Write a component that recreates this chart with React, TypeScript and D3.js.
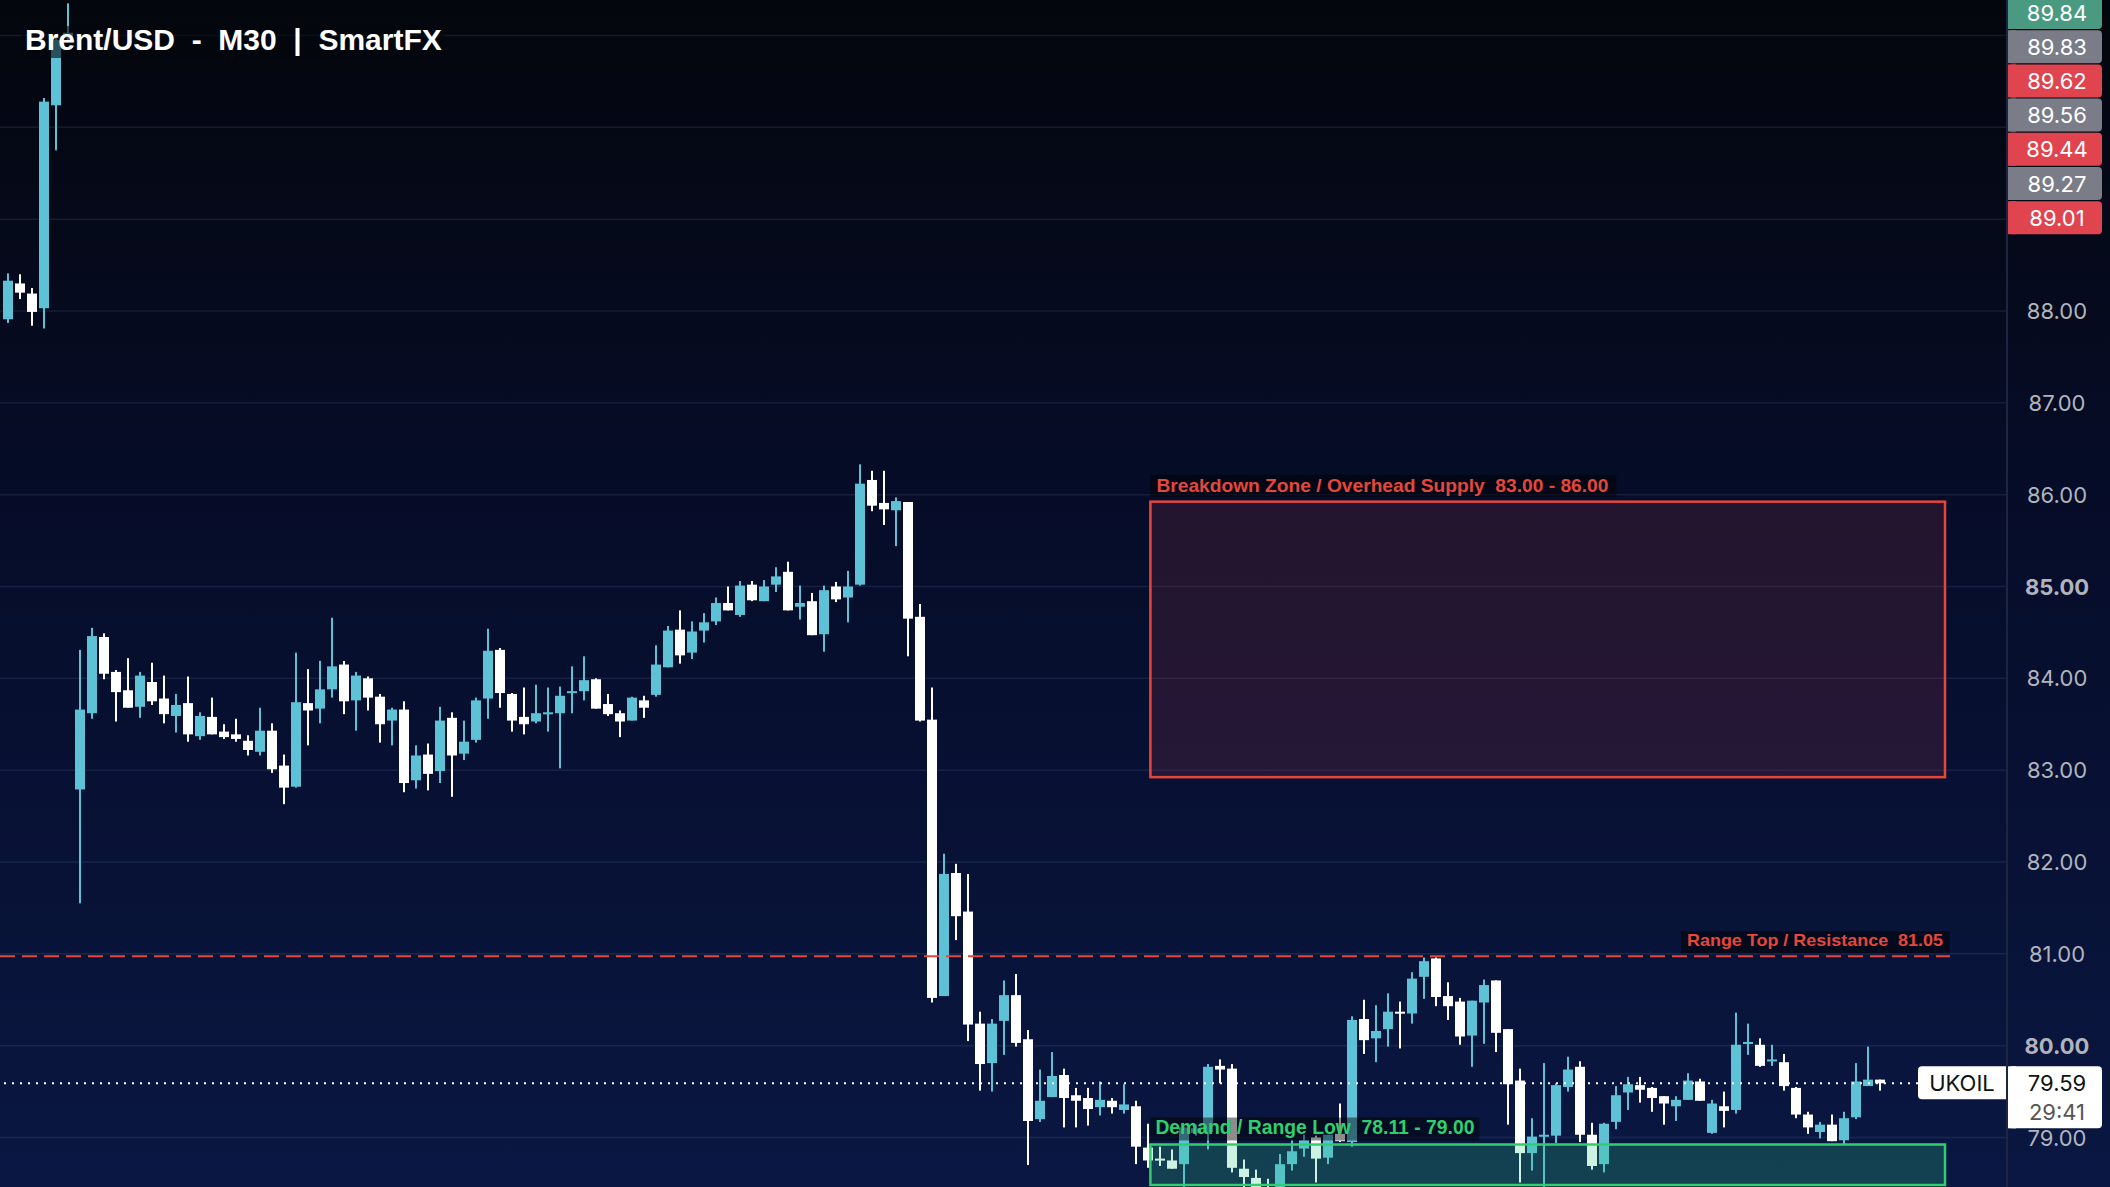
import React from 'react';
import * as d3 from 'd3';

const W = 2110;
const H = 1187;

const OPEN = [87.91,88.30,88.19,88.03,90.24,90.97,82.79,83.62,84.45,84.07,83.87,83.69,83.96,83.78,83.59,83.73,83.37,83.58,83.42,83.39,83.32,83.20,83.43,83.05,82.82,83.73,83.67,83.88,84.15,83.76,84.00,83.80,83.54,83.66,82.89,83.17,82.99,83.57,83.18,83.33,83.78,84.31,83.83,83.58,83.53,83.61,83.62,83.84,83.86,83.99,83.72,83.62,83.54,83.76,83.82,84.12,84.53,84.28,84.52,84.62,84.82,84.69,85.02,84.84,85.02,85.16,84.78,84.84,84.48,85.00,84.88,85.02,86.16,85.91,85.83,85.92,84.67,83.55,80.54,81.88,81.46,80.24,79.81,80.27,80.55,80.07,79.20,79.44,79.68,79.46,79.43,79.33,79.40,79.30,79.34,78.89,78.77,78.75,78.71,79.05,79.06,79.78,79.75,78.66,78.56,78.40,78.28,78.71,78.88,79.00,78.78,79.04,78.95,80.29,80.08,80.18,80.37,80.35,80.75,80.95,80.54,80.48,80.11,80.47,80.71,80.18,79.62,78.83,79.01,79.02,79.55,79.77,79.03,78.71,79.17,79.49,79.57,79.54,79.45,79.34,79.41,79.61,79.05,79.34,79.30,80.02,80.01,79.83,79.82,79.54,79.25,79.06,79.14,78.97,79.22,79.56,79.63];
const HIGH = [88.41,88.40,88.25,90.32,90.99,91.35,84.31,84.55,84.49,84.09,84.22,84.07,84.17,84.03,83.83,84.02,83.63,83.79,83.50,83.56,83.38,83.68,83.51,83.17,84.28,84.10,84.19,84.66,84.19,84.07,84.02,83.83,83.68,83.75,83.27,83.29,83.69,83.63,83.54,83.79,84.54,84.33,83.84,83.90,83.93,83.90,83.91,84.13,84.24,84.00,83.83,83.65,83.80,83.81,84.36,84.57,84.74,84.62,84.71,84.88,85.00,85.06,85.06,85.07,85.21,85.27,85.01,84.93,85.01,85.05,85.17,86.33,86.26,86.26,85.97,85.92,84.81,83.90,82.09,81.98,81.87,80.37,80.29,80.71,80.78,80.17,79.74,79.93,79.75,79.54,79.54,79.61,79.43,79.58,79.40,79.15,78.90,78.87,79.11,79.14,79.80,79.85,79.80,78.76,78.65,78.55,78.82,78.97,79.03,79.02,79.03,79.37,80.32,80.50,80.44,80.57,80.48,80.80,80.96,80.96,80.69,80.52,80.49,80.72,80.71,80.18,79.75,79.21,79.81,79.59,79.88,79.83,79.16,79.16,79.56,79.66,79.66,79.55,79.45,79.45,79.70,79.64,79.41,79.50,80.36,80.24,80.08,80.01,79.91,79.55,79.28,79.17,79.25,79.28,79.81,79.99,79.63];
const LOW = [87.87,88.13,87.84,87.81,89.75,90.93,81.55,83.56,83.99,83.53,83.68,83.57,83.71,83.51,83.41,83.31,83.33,83.39,83.34,83.31,83.16,83.16,82.97,82.63,82.81,83.27,83.51,83.79,83.61,83.43,83.65,83.30,83.27,82.76,82.80,82.78,82.86,82.71,83.11,83.30,83.56,83.68,83.42,83.39,83.51,83.42,83.02,83.62,83.76,83.67,83.59,83.36,83.54,83.57,83.80,84.12,84.16,84.21,84.39,84.58,84.74,84.67,84.84,84.84,84.94,84.74,84.64,84.47,84.29,84.83,84.61,85.01,85.82,85.67,85.44,84.24,83.53,80.47,80.54,81.15,80.05,79.51,79.50,79.90,79.99,78.70,79.17,79.44,79.11,79.11,79.13,79.24,79.26,79.26,78.71,78.67,78.69,78.66,78.38,79.02,78.87,79.59,78.62,78.46,78.30,78.18,78.22,78.64,78.79,78.51,78.71,78.95,78.90,79.91,79.82,79.99,79.97,80.24,80.51,80.43,80.28,80.01,79.77,80.02,79.93,79.14,78.51,78.64,78.43,78.94,79.50,78.95,78.65,78.62,79.09,79.30,79.38,79.28,79.14,79.18,79.41,79.40,79.04,79.11,79.26,79.90,79.77,79.78,79.51,79.21,79.04,78.99,78.96,78.93,79.20,79.56,79.51];
const CLOSE = [88.33,88.20,87.99,90.28,90.95,91.03,83.66,84.46,84.05,83.85,83.68,84.03,83.75,83.61,83.71,83.39,83.59,83.39,83.36,83.34,83.22,83.43,83.01,82.81,83.74,83.65,83.88,84.13,83.75,84.03,83.79,83.50,83.66,82.86,83.16,82.96,83.54,83.16,83.31,83.76,84.30,83.84,83.54,83.50,83.62,83.63,83.81,83.86,83.98,83.67,83.61,83.53,83.79,83.68,84.15,84.52,84.25,84.51,84.61,84.82,84.74,85.01,84.85,85.00,85.11,84.74,84.82,84.47,84.96,84.86,85.00,86.12,85.88,85.84,85.93,84.65,83.54,80.52,81.87,81.41,80.23,79.80,80.24,80.55,80.03,79.18,79.40,79.67,79.43,79.40,79.31,79.41,79.33,79.36,78.90,78.75,78.75,78.66,79.11,79.10,79.77,79.74,78.67,78.57,78.40,78.28,78.71,78.85,78.97,78.77,79.03,78.96,80.28,80.06,80.16,80.37,80.36,80.73,80.92,80.53,80.43,80.10,80.49,80.66,80.14,79.58,78.83,79.01,79.03,79.57,79.74,79.03,78.69,79.15,79.46,79.58,79.52,79.43,79.37,79.41,79.62,79.40,79.37,79.29,80.01,80.04,79.78,79.85,79.56,79.25,79.11,79.14,78.96,79.21,79.61,79.63,79.59];

const GRID_LEVELS = [79, 80, 81, 82, 83, 84, 85, 86, 87, 88, 89, 90, 91];
const AXIS_LABELS = [79, 80, 81, 82, 83, 84, 85, 86, 87, 88];
const STACK_LABELS = ['89.84', '89.83', '89.62', '89.56', '89.44', '89.27', '89.01'];
const STACK_KINDS = ['up', 'flat', 'down', 'flat', 'down', 'flat', 'down'];

const TITLE = 'Brent/USD  -  M30  |  SmartFX';
const SYMBOL = 'UKOIL';
const LAST_PRICE = 79.59;
const COUNTDOWN = '29:41';

const SUPPLY = { low: 83.0, high: 86.0, label: 'Breakdown Zone / Overhead Supply  83.00 - 86.00' };
const DEMAND = { low: 78.11, high: 79.0, label: 'Demand / Range Low  78.11 - 79.00' };
const RESIST = { level: 81.05, label: 'Range Top / Resistance  81.05' };

const UP = '#5ec2d6';
const DOWN = '#ffffff';
const RED = '#e5473d';
const GREEN = '#2fcf6e';

export default function App() {
  const N = OPEN.length;
  const plotRight = 2007;
  const plotBottom = 1185;
  const x = d3.scaleLinear().domain([0, N - 1]).range([8, 1880]);
  const y = d3.scaleLinear().domain([79, 88]).range([1137.5, 311]);
  const SHIFT = 7; // annotation layer offset
  const bodyW = 10;
  const zoneX0 = x(95.2);
  const zoneX1 = 1945;
  const ySh = (p: number) => y(p) + SHIFT;

  const candles = d3.range(N).map((i) => {
    const o = OPEN[i], c = CLOSE[i];
    const up = c >= o;
    const top = y(Math.max(o, c));
    const bot = y(Math.min(o, c));
    return { i, up, top, h: Math.max(2, bot - top), hi: y(HIGH[i]), lo: y(LOW[i]) };
  });

  const axisFont = 'Inter, "Noto Sans", sans-serif';
  const labFont = '"Liberation Sans", Arial, sans-serif';
  const stackColor = (k: string) => (k === 'up' ? '#4a9a82' : k === 'down' ? '#e0444e' : '#7a7d88');

  const demandTop = ySh(DEMAND.high);
  const demandBot = Math.min(ySh(DEMAND.low), plotBottom);

  return (
    <svg width={W} height={H} style={{ position: 'fixed', left: 0, top: 0, display: 'block' }}>
      <defs>
        <linearGradient id="bg" x1="0" y1="0" x2="0" y2="1">
          <stop offset="0" stopColor="#04060d" />
          <stop offset="0.45" stopColor="#060d2a" />
          <stop offset="1" stopColor="#0a1742" />
        </linearGradient>
        <clipPath id="plot">
          <rect x={0} y={0} width={plotRight} height={H} />
        </clipPath>
      </defs>
      <rect x={0} y={0} width={W} height={H} fill="url(#bg)" />

      <g clipPath="url(#plot)">
        {GRID_LEVELS.map((t) => (
          <line key={t} x1={0} x2={plotRight} y1={y(t)} y2={y(t)} stroke="rgba(120,135,185,0.15)" strokeWidth={1.5} />
        ))}

        {/* supply zone */}
        <rect x={zoneX0} y={ySh(SUPPLY.high)} width={zoneX1 - zoneX0} height={ySh(SUPPLY.low) - ySh(SUPPLY.high)}
          fill="rgba(210,70,80,0.14)" stroke={RED} strokeWidth={2.5} />

        {/* candles */}
        {candles.map((c) => (
          <g key={c.i} fill={c.up ? UP : DOWN} stroke="none">
            <rect x={x(c.i) - 1} y={c.hi} width={2} height={c.lo - c.hi} />
            <rect x={x(c.i) - bodyW / 2} y={c.top} width={bodyW} height={c.h} />
          </g>
        ))}

        {/* demand zone */}
        <rect x={zoneX0} y={demandTop} width={zoneX1 - zoneX0} height={demandBot - demandTop}
          fill="rgba(50,200,135,0.24)" stroke={GREEN} strokeWidth={2.5} />

        {/* resistance line */}
        <line x1={0} x2={1950} y1={ySh(RESIST.level)} y2={ySh(RESIST.level)} stroke={RED} strokeWidth={2} strokeDasharray="15 7" />

        {/* current price line */}
        <line x1={4} x2={1918} y1={y(LAST_PRICE)} y2={y(LAST_PRICE)} stroke="#ffffff" strokeWidth={2} strokeDasharray="2 6" />

        {/* zone labels */}
        <rect x={zoneX0} y={ySh(SUPPLY.high) - 27} width={466} height={22} fill="rgba(0,0,0,0.45)" />
        <text x={zoneX0 + 6} y={ySh(SUPPLY.high) - 10} fill={RED} fontFamily={labFont} fontWeight={700} fontSize={19}
          textLength={452} lengthAdjust="spacingAndGlyphs" style={{ whiteSpace: 'pre' }}>{SUPPLY.label}</text>

        <rect x={1681} y={ySh(RESIST.level) - 25} width={269} height={22} fill="rgba(0,0,0,0.5)" />
        <text x={1687} y={ySh(RESIST.level) - 10} fill={RED} fontFamily={labFont} fontWeight={700} fontSize={17}
          textLength={256} lengthAdjust="spacingAndGlyphs" style={{ whiteSpace: 'pre' }}>{RESIST.label}</text>

        <rect x={zoneX0} y={demandTop - 27} width={329} height={23} fill="rgba(0,0,0,0.45)" />
        <text x={zoneX0 + 5} y={demandTop - 11} fill={GREEN} fontFamily={labFont} fontWeight={700} fontSize={20}
          textLength={319} lengthAdjust="spacingAndGlyphs" style={{ whiteSpace: 'pre' }}>{DEMAND.label}</text>

        {/* symbol tag */}
        <rect x={1918} y={y(LAST_PRICE) - 17} width={92} height={33} rx={4} fill="#ffffff" />
        <text x={1962} y={y(LAST_PRICE) + 8} textAnchor="middle" fill="#111" fontFamily={axisFont} fontSize={22}>{SYMBOL}</text>
      </g>

      {/* axis panel */}
      <line x1={plotRight} x2={plotRight} y1={0} y2={H} stroke="#1d2541" strokeWidth={2} />
      {AXIS_LABELS.map((t) => (
        <text key={t} x={2057} y={y(t) + 8} textAnchor="middle" fill="#b1b4bd" fontFamily={axisFont} fontSize={22}
          fontWeight={t % 5 === 0 ? 700 : 400}>{d3.format('.2f')(t)}</text>
      ))}

      {STACK_LABELS.map((s, k) => {
        const top = -4 + k * 34.2;
        return (
          <g key={s + k}>
            <rect x={2008} y={top} width={94} height={33} rx={4} fill={stackColor(STACK_KINDS[k])} />
            <rect x={2008} y={top} width={8} height={33} fill={stackColor(STACK_KINDS[k])} />
            <text x={2057} y={top + 24.5} textAnchor="middle" fill="#ffffff" fontFamily={axisFont} fontSize={22}>{s}</text>
          </g>
        );
      })}

      {/* last price box */}
      <rect x={2008} y={y(LAST_PRICE) - 17} width={94} height={62} rx={4} fill="#ffffff" />
      <rect x={2008} y={y(LAST_PRICE) - 17} width={8} height={62} fill="#ffffff" />
      <text x={2057} y={y(LAST_PRICE) + 8} textAnchor="middle" fill="#111" fontFamily={axisFont} fontSize={22}>{d3.format('.2f')(LAST_PRICE)}</text>
      <text x={2057} y={y(LAST_PRICE) + 37} textAnchor="middle" fill="#555" fontFamily={axisFont} fontSize={22}>{COUNTDOWN}</text>

      {/* title */}
      <rect x={21} y={26} width={424} height={32} fill="rgba(4,6,12,0.6)" />
      <text x={25} y={50} fill="#ffffff" fontFamily={labFont} fontWeight={700} fontSize={30} style={{ whiteSpace: 'pre' }}>{TITLE}</text>
    </svg>
  );
}
